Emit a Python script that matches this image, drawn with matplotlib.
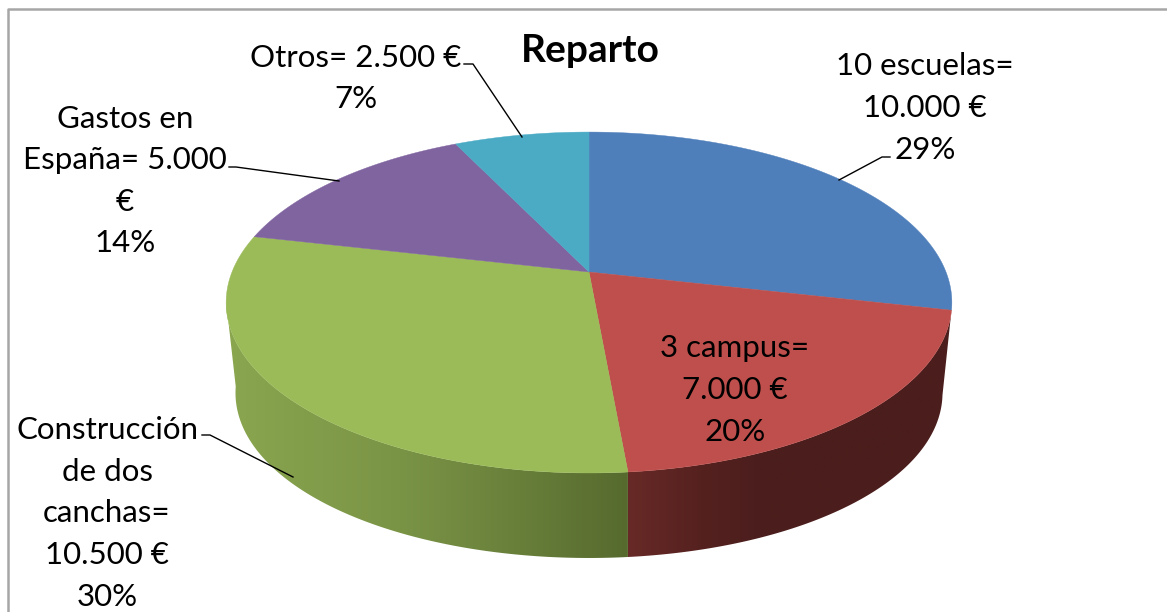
import numpy as np
import matplotlib
matplotlib.use("Agg")
import matplotlib.pyplot as plt
from matplotlib.patches import Polygon

W, H = 1167, 612

# datos del grafico
names = ["10 escuelas=", "3 campus=", "Construcción\nde dos\ncanchas=", "Gastos en\nEspaña= 5.000\n€", "Otros= 2.500 €"]
amounts = [10000, 7000, 10500, 5000, 2500]
amount_labels = ["10.000 €", "7.000 €", "10.500 €", "", ""]
percents = ["29%", "20%", "30%", "14%", "7%"]
top_colors = ["#4f7fbb", "#be4f4c", "#9bbb59", "#8064a0", "#4babc5"]

# perspectiva del disco, en pixeles
CX, CY = 589, 272
RX, RY = 357, 165
K = 0.179
DEPTH = 85
SHRINK = 0.032

label_pos = [(925, 108), (735, 390), (107, 513.5), (125, 181), (356, 78.5)]
leaders = [
    [(890, 157), (882, 157), (839, 180)],
    [(202, 435), (210, 435), (293, 477)],
    [(229, 167), (236, 167), (339, 181)],
    [(464, 64), (473, 64), (522, 137)],
]


def top_point(theta):
    u, v = np.sin(theta), np.cos(theta)
    w = 1 + K * v
    return CX + RX * u / w, CY - RY * v / w


def bottom_point(theta):
    x, y = top_point(theta)
    v = np.cos(theta)
    f = 1 - SHRINK * (1 + v)
    return CX + (x - CX) * f, y + DEPTH


green_wall = [(226, "#8aa64f"), (400, "#7a9446"), (520, "#687f3a"), (628, "#566a2e")]
red_wall = [(626, "#682a27"), (700, "#55211f"), (760, "#4b1e1d"), (955, "#4b1e1d")]

fig = plt.figure(figsize=(W / 100, H / 100), dpi=100)
ax = fig.add_axes([0, 0, 1, 1])

# limites de cada porcion, horario desde arriba
edges = np.cumsum([0] + amounts) / sum(amounts) * 2 * np.pi

# pared lateral, degradado horizontal recortado a la forma
for i, stops in [(1, red_wall), (2, green_wall)]:
    lo = max(edges[i], np.radians(100))
    hi = min(edges[i + 1], np.radians(260))
    t = np.linspace(lo, hi, 300)
    xt, yt = top_point(t)
    xb, yb = bottom_point(t)
    outline = np.c_[np.r_[xt, xb[::-1]], np.r_[yt, yb[::-1]]]
    xs, cols = zip(*stops)
    cols = np.array([matplotlib.colors.to_rgb(c) for c in cols])
    grid = np.linspace(xs[0], xs[-1], 256)
    grad = np.stack([np.interp(grid, xs, cols[:, k]) for k in range(3)], axis=-1)[None, :, :]
    im = ax.imshow(grad, extent=(xs[0], xs[-1], 600, 200), aspect="auto", zorder=1)
    im.set_clip_path(Polygon(outline, transform=ax.transData))

ax.set_xlim(0, W)
ax.set_ylim(H, 0)
ax.axis("off")

# tapa
for i, col in enumerate(top_colors):
    t = np.linspace(edges[i], edges[i + 1], 200)
    x, y = top_point(t)
    ax.fill(np.r_[CX, x], np.r_[CY, y], color=col, lw=0.3, zorder=2)

for pts in leaders:
    xs, ys = zip(*pts)
    ax.plot(xs, ys, color="black", lw=1.0, zorder=3)

# marco
ax.plot([8, 8, W], [H, 9, 9], color="#a6a6a6", lw=1.8, zorder=3)

font = "Lato"
ax.text(590, 51, "Reparto", ha="center", va="center", fontsize=28, fontweight="bold", family=font)
for name, am, pc, (x, y) in zip(names, amount_labels, percents, label_pos):
    lines = [name] + ([am] if am else []) + [pc]
    ax.text(x, y, "\n".join(lines), ha="center", va="center", fontsize=22.5, family=font,
            linespacing=1.59, color="black", zorder=4)

fig.savefig("out.png", dpi=100)
